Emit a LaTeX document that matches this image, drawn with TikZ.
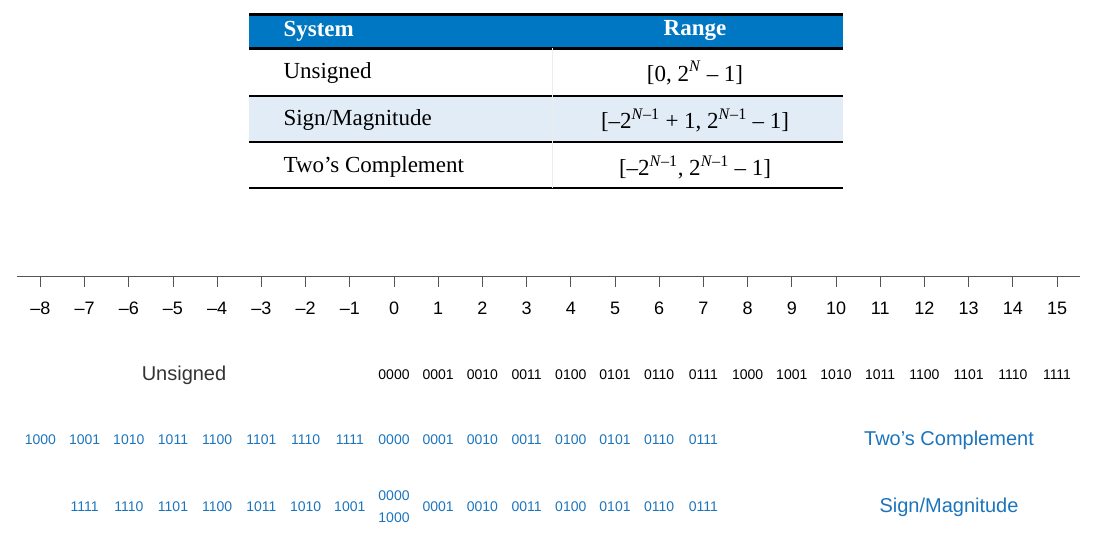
\documentclass[tikz,border=0pt]{standalone}
\usepackage{fontspec}
\setmainfont{Liberation Sans}
\newfontfamily\tabfont{Liberation Serif}
\definecolor{hdblue}{HTML}{0077C2}
\definecolor{rowblue}{HTML}{E2ECF7}
\definecolor{codeblue}{HTML}{1C75BC}
\definecolor{axisgray}{HTML}{555555}
\begin{document}
\begin{tikzpicture}[x=1pt,y=-1pt,
    tabtext/.style={font=\tabfont\fontsize{23}{26}\selectfont},
    numtext/.style={font=\fontsize{18}{21}\selectfont},
    codetext/.style={font=\fontsize{14}{16}\selectfont},
    bluecode/.style={codetext,text=codeblue},
    rowlabel/.style={font=\fontsize{20}{23}\selectfont}]
    \useasboundingbox (0,0) rectangle (1107,555);
    \def\sp{44.2}

    % table
    \fill[hdblue] (249,14) rectangle (843,48);
    \fill[rowblue] (249,96) rectangle (843,142);
    \draw[line width=3pt] (249,14) -- (843,14);
    \draw[line width=3pt] (249,48) -- (843,48);
    \foreach \y in {96,142,188} \draw[line width=2pt] (249,\y) -- (843,\y);
    \draw[gray!15] (552,48) -- (552,188);
    \node[tabtext,text=white,anchor=west] (hsys) at (280,31) {\textbf{System}};
    \node[tabtext,text=white] (hrng) at (695,31) {\textbf{Range}};
    \node[tabtext,anchor=west] (sys1) at (280,73) {Unsigned};
    \node[tabtext] (rng1) at (695,73) {[0, 2\textsuperscript{\textit{N}} – 1]};
    \node[tabtext,anchor=west] (sys2) at (280,120) {Sign/Magnitude};
    \node[tabtext] (rng2) at (695,120) {[–2\textsuperscript{\textit{N}–1} + 1, 2\textsuperscript{\textit{N}–1} – 1]};
    \node[tabtext,anchor=west] (sys3) at (280,167) {Two’s Complement};
    \node[tabtext] (rng3) at (695,167) {[–2\textsuperscript{\textit{N}–1}, 2\textsuperscript{\textit{N}–1} – 1]};

    % number line
    \draw[axisgray,line width=1pt] (17,276) -- (1080,276);
    \foreach \n in {-8,...,15} {
      \draw[axisgray,line width=1pt] ({394+\n*\sp},276) -- ++(0,11);
      \ifnum\n<0
        \node[numtext] (n\n) at ({394+\n*\sp},308) {–\the\numexpr-\n\relax};
      \else
        \node[numtext] (n\n) at ({394+\n*\sp},308) {\n};
      \fi
    }

    % unsigned
    \node[rowlabel,text=black!80] (lu) at (184,375) {Unsigned};
    \foreach \c [count=\i from 0] in {0000,0001,0010,0011,0100,0101,0110,0111,1000,1001,1010,1011,1100,1101,1110,1111}
      \node[codetext] (u\i) at ({394+\i*\sp},375) {\c};

    % two's complement
    \foreach \c [count=\i from -8] in {1000,1001,1010,1011,1100,1101,1110,1111,0000,0001,0010,0011,0100,0101,0110,0111}
      \node[bluecode] (t\i) at ({394+\i*\sp},440) {\c};
    \node[rowlabel,text=codeblue] (lt) at (949,440) {Two's Complement};

    % sign/magnitude
    \foreach \c [count=\i from -7] in {1111,1110,1101,1100,1011,1010,1001}
      \node[bluecode] (s\i) at ({394+\i*\sp},507) {\c};
    \node[bluecode] (sp0) at (394,496) {0000};
    \node[bluecode] (sm0) at (394,518) {1000};
    \foreach \c [count=\i from 1] in {0001,0010,0011,0100,0101,0110,0111}
      \node[bluecode] (s\i) at ({394+\i*\sp},507) {\c};
    \node[rowlabel,text=codeblue] (ls) at (949,507) {Sign/Magnitude};
\end{tikzpicture}
\end{document}
